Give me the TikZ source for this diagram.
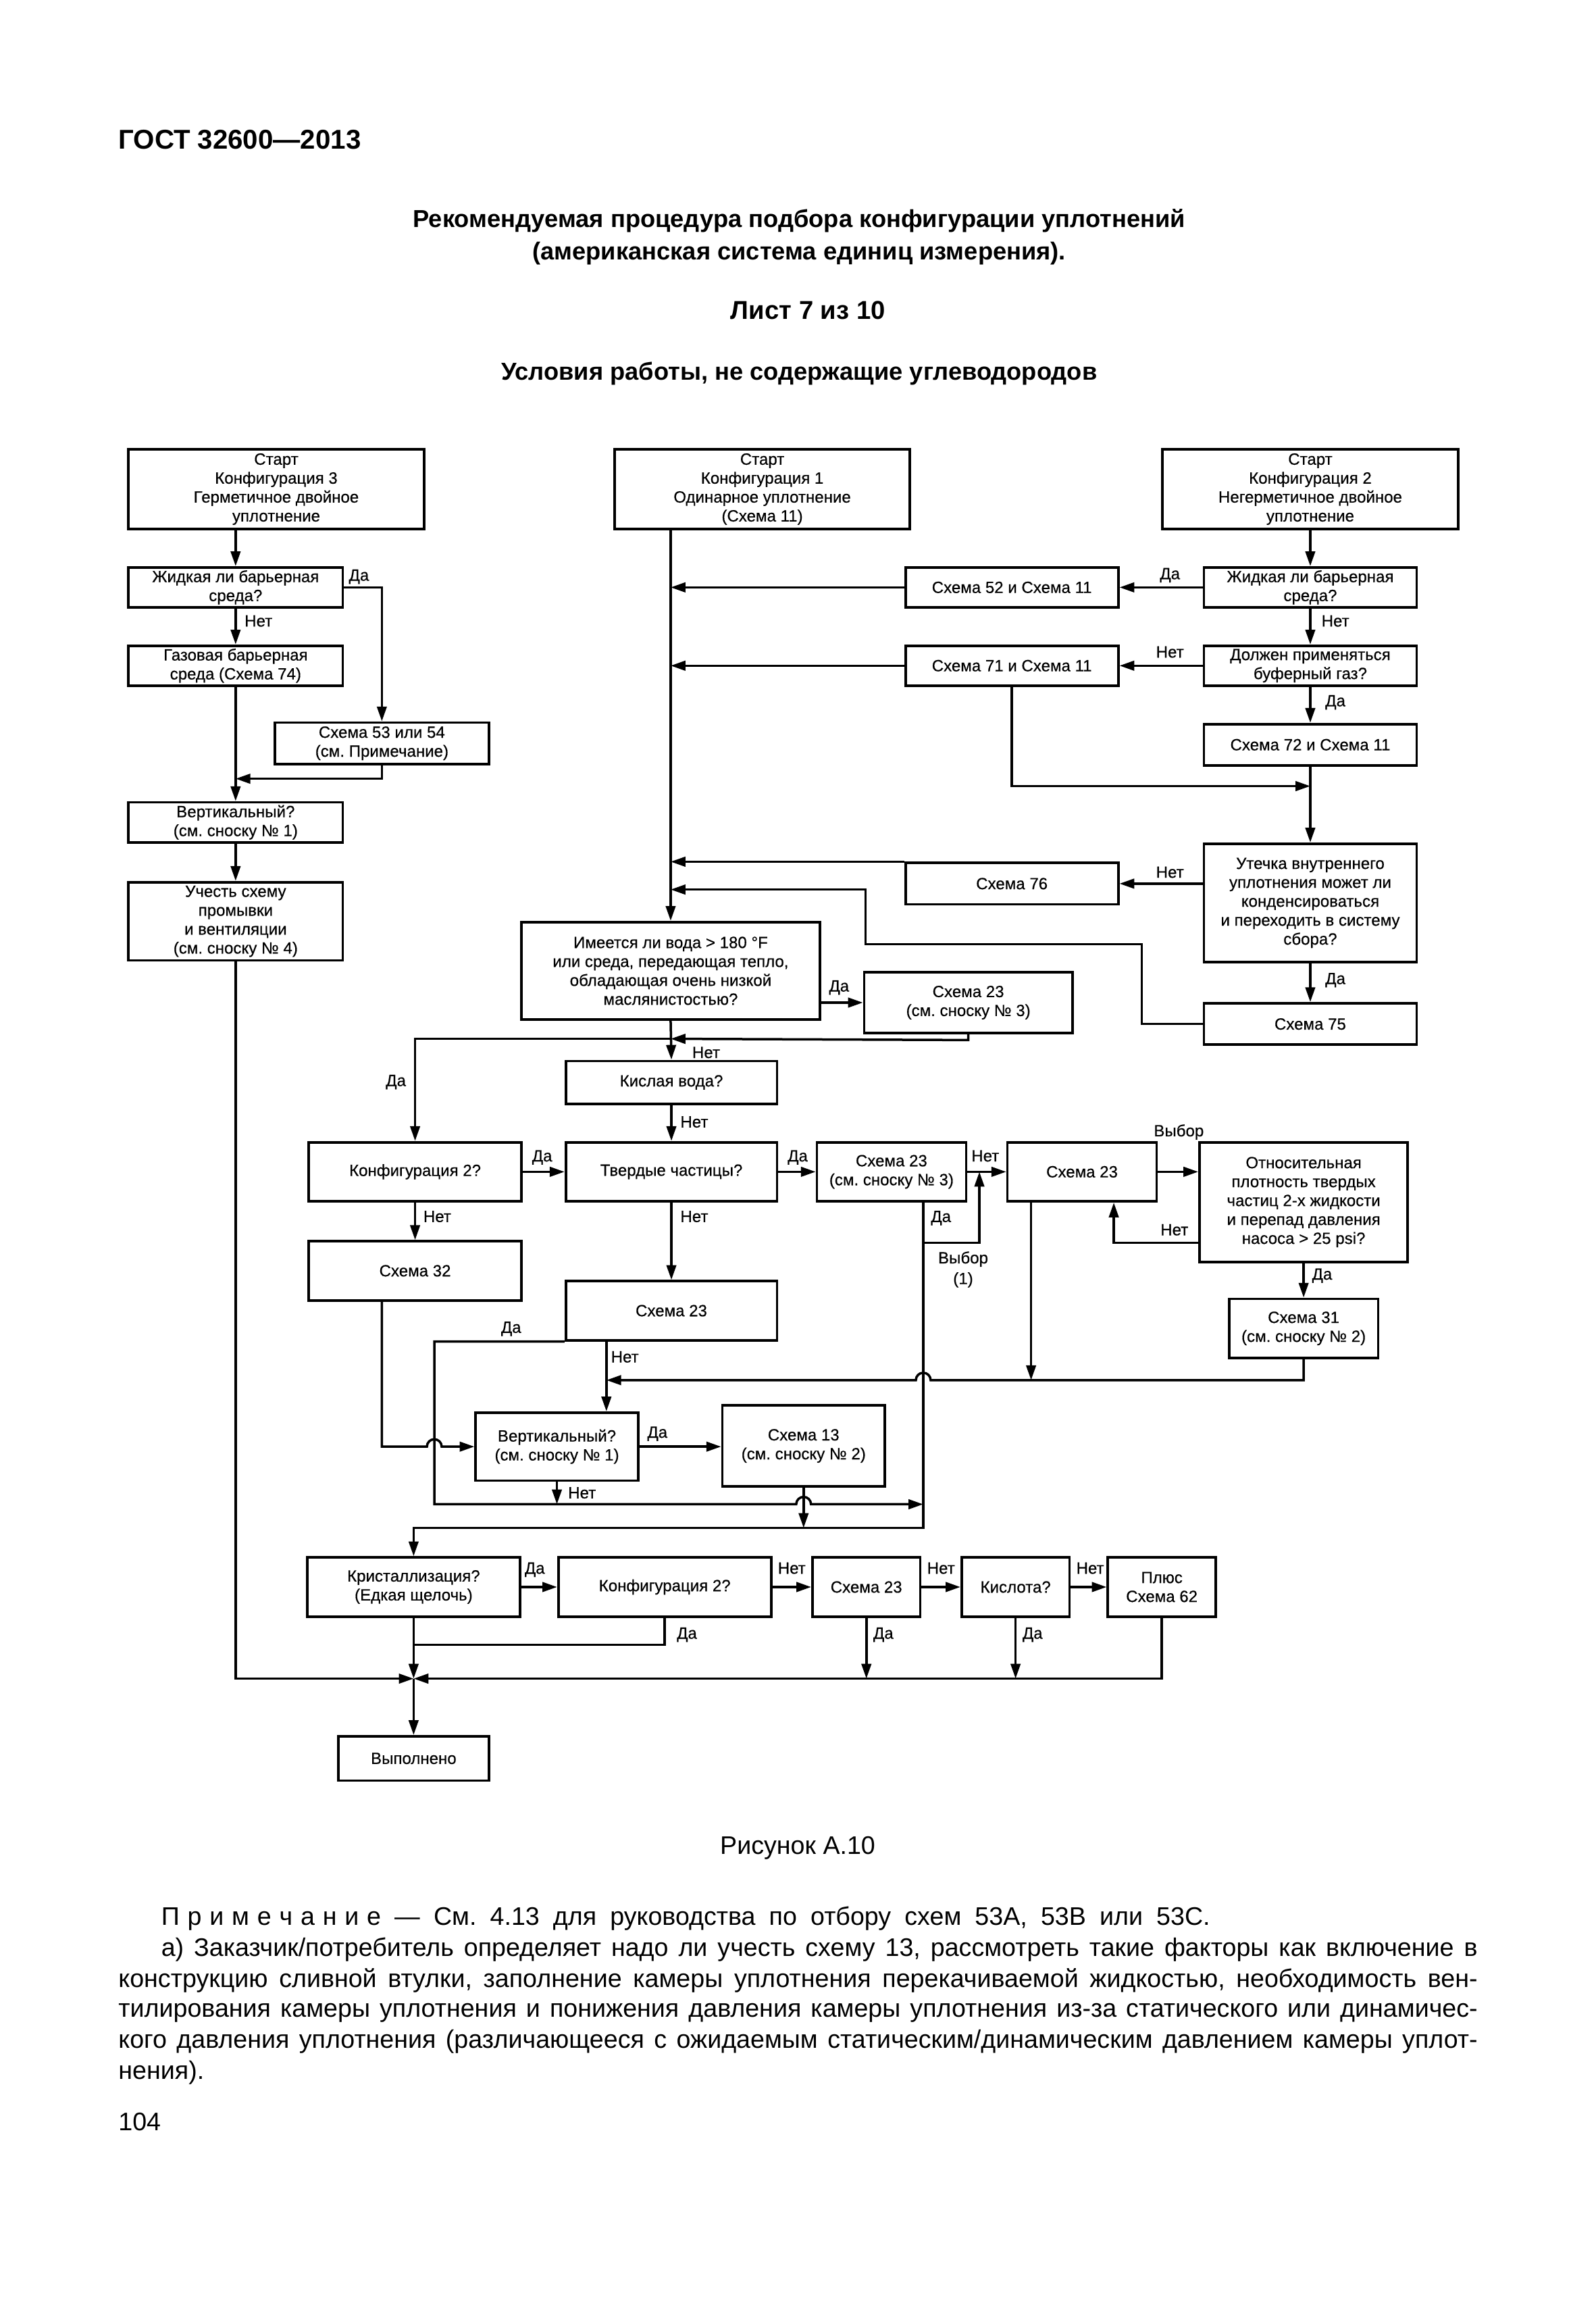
\documentclass[tikz,border=0pt]{standalone}
\usepackage{fontspec}
\setmainfont{Liberation Sans}
\newfontfamily\dgfont{Liberation Sans}[FakeBold=0.5]
\usetikzlibrary{arrows.meta,calc}
\frenchspacing
\tikzset{
  box/.style={draw, line width=1.7pt, inner sep=0pt, align=center, font=\dgfont\fontsize{11}{12.8}\selectfont},
  lbl/.style={inner sep=0pt, font=\dgfont\fontsize{11}{12.8}\selectfont, anchor=base},
  arr/.style={line width=1.6pt, -{Triangle[length=10pt,width=6.5pt]}},
  ln/.style={line width=1.6pt},
  hdr/.style={inner sep=0pt, anchor=base, font=\bfseries\fontsize{16.6}{19}\selectfont},
  note/.style={inner sep=0pt, anchor=base west, font=\frenchspacing\fontsize{17.2}{20.8}\selectfont}
}
\newcommand\bx[6]{\node[box, minimum width={(#4-#2)*1pt}, minimum height={(#5-#3)*1pt}] (#1) at ({(#2+#4)/2},{(#3+#5)/2}) {#6};}
\newcommand\lb[4]{\node[lbl] (#1) at (#2,{#3+4}) {#4};}
\newcommand\ls{\kern5.4pt}
\begin{document}
\begin{tikzpicture}[x=1pt,y=-1pt]
\fill[white] (0,0) rectangle (1080,1566);
\useasboundingbox (0,0) rectangle (1080,1566);

% header
\node[inner sep=0pt, anchor=base west, font=\bfseries\fontsize{18.4}{20}\selectfont] (gost) at (80,101) {ГОСТ 32600—2013};
\node[hdr] (t1) at (541,154) {Рекомендуемая процедура подбора конфигурации уплотнений};
\node[hdr] (t2) at (541,176) {(американская система единиц измерения).};
\node[hdr, font=\bfseries\fontsize{17.5}{19}\selectfont] (t3) at (547,216) {Лист 7 из 10};
\node[hdr] (t4) at (541,257) {Условия работы, не содержащие углеводородов};

% boxes - left
\bx{S3}{87}{304}{287}{358}{Старт\\Конфигурация 3\\Герметичное двойное\\уплотнение}
\bx{LQL}{87}{384}{232}{411}{Жидкая ли барьерная\\среда?}
\bx{GAS}{87}{437}{232}{464}{Газовая барьерная\\среда (Схема 74)}
\bx{S53}{186}{489}{331}{517}{Схема 53 или 54\\(см. Примечание)}
\bx{VERT1}{87}{543}{232}{570}{Вертикальный?\\(см. сноску № 1)}
\bx{FLUSH}{87}{597}{232}{650}{Учесть схему\\промывки\\и вентиляции\\(см. сноску № 4)}

% boxes - middle/right top
\bx{S1}{416}{304}{616}{358}{Старт\\Конфигурация 1\\Одинарное уплотнение\\(Схема 11)}
\bx{S2}{787}{304}{987}{358}{Старт\\Конфигурация 2\\Негерметичное двойное\\уплотнение}
\bx{LQR}{815}{384}{959}{411}{Жидкая ли барьерная\\среда?}
\bx{S52}{613}{384}{757}{411}{Схема 52 и Схема 11}
\bx{DOLZH}{815}{437}{959}{464}{Должен применяться\\буферный газ?}
\bx{S71}{613}{437}{757}{464}{Схема 71 и Схема 11}
\bx{S72}{815}{490}{959}{518}{Схема 72 и Схема 11}
\bx{UTECH}{815}{571}{959}{651}{Утечка внутреннего\\уплотнения может ли\\конденсироваться\\и переходить в систему\\сбора?}
\bx{S76}{613}{584}{757}{612}{Схема 76}
\bx{S75}{815}{679}{959}{707}{Схема 75}

% boxes - middle
\bx{IMEET}{353}{624}{555}{690}{Имеется ли вода > 180 °F\\или среда, передающая тепло,\\обладающая очень низкой\\маслянистостью?}
\bx{S23a}{585}{658}{726}{699}{Схема 23\\(см. сноску № 3)}
\bx{KISL}{383}{718}{526}{747}{Кислая вода?}
\bx{TVERD}{383}{773}{526}{813}{Твердые частицы?}
\bx{KONF2}{209}{773}{353}{813}{Конфигурация 2?}
\bx{S32}{209}{840}{353}{880}{Схема 32}
\bx{S23mid}{383}{867}{526}{907}{Схема 23}
\bx{S23b}{553}{773}{654}{813}{Схема 23\\(см. сноску № 3)}
\bx{S23r}{682}{773}{783}{813}{Схема 23}
\bx{OTN}{812}{773}{953}{854}{Относительная\\плотность твердых\\частиц 2-х жидкости\\и перепад давления\\насоса > 25 psi?}
\bx{S31}{832}{879}{933}{919}{Схема 31\\(см. сноску № 2)}
\bx{VERT2}{322}{956}{432}{1002}{Вертикальный?\\(см. сноску № 1)}
\bx{S13}{489}{951}{599}{1006}{Схема 13\\(см. сноску № 2)}

% boxes - bottom
\bx{KRIST}{208}{1054}{352}{1094}{Кристаллизация?\\(Едкая щелочь)}
\bx{KONF2b}{378}{1054}{522}{1094}{Конфигурация 2?}
\bx{S23c}{550}{1054}{623}{1094}{Схема 23}
\bx{KISLOTA}{651}{1054}{724}{1094}{Кислота?}
\bx{PLUS}{750}{1054}{823}{1094}{Плюс\\Схема 62}
\bx{DONE}{229}{1175}{331}{1205}{Выполнено}

% junction coordinates
\coordinate (j527) at (159.5,527);
\coordinate (jE) at (280,1136);
\coordinate (j602) at (454,602);
\coordinate (j532) at (887,532);
\coordinate (j703) at (454,703);
\coordinate (j934) at (410.5,934);
\coordinate (j698) at (698,934);
\coordinate (b841) at (625,841);
\coordinate (b793) at (663,793);
\coordinate (j1018) at (625,1018);
\coordinate (j1034) at (544,1034);
\coordinate (j1113) at (280,1113);

% left connectors
\draw[arr] (S3.south -| LQL.north) -- (LQL.north);
\draw[arr] (LQL.south) -- (GAS.north);
\draw[arr] (LQL.east) -| (S53.north);
\draw[arr] (S53.south) |- (j527);
\draw[arr] (GAS.south) -- (VERT1.north);
\draw[arr] (VERT1.south) -- (FLUSH.north);
\draw[arr] (FLUSH.south) |- (jE);

% trunk
\draw[arr] (S1.south -| IMEET.north) -- (IMEET.north);
\draw[arr] (S52.west) -- (S52.west -| IMEET.north);
\draw[arr] (S71.west) -- (S71.west -| IMEET.north);
\draw[arr] (S76.north west) -- (S76.north west -| IMEET.north);
\draw[arr] (S75.west) -| (773,639) -| (586,602) -- (j602);

% right
\draw[arr] (S2.south) -- (LQR.north);
\draw[arr] (LQR.west) -- (S52.east);
\draw[arr] (LQR.south) -- (DOLZH.north);
\draw[arr] (DOLZH.west) -- (S71.east);
\draw[arr] (DOLZH.south) -- (S72.north);
\draw[arr] (S72.south) -- (UTECH.north);
\draw[arr] (S71.south) |- (j532);
\draw[arr] (UTECH.west |- S76.east) -- (S76.east);
\draw[arr] (UTECH.south) -- (S75.north);

% middle
\draw[arr] (IMEET.east |- S23a.west) -- (S23a.west);
\draw[arr] (S23a.south) -- ++(0,4) -- (j703);
\draw[arr] (j703) -| (KONF2.north);
\draw[arr] (IMEET.south) -- (KISL.north);
\draw[arr] (KISL.south) -- (TVERD.north);
\draw[arr] (KONF2.east) -- (TVERD.west);
\draw[arr] (KONF2.south) -- (S32.north);
\draw[arr] (TVERD.east) -- (S23b.west);
\draw[arr] (TVERD.south) -- (S23mid.north);
\draw[arr] (S23b.east) -- (S23r.west);
\draw[arr] (S23r.east) -- (S23r.east -| OTN.west);
\draw[arr] ([yshift=-27.5pt]OTN.west) -| ([xshift=21.5pt]S23r.south);
\draw[arr] (OTN.south) -- (S31.north);
\draw[arr] (S31.south) |- (630,934) arc[start angle=0,end angle=180,radius=5pt] -- (j934);
\draw[arr] ([xshift=-34.5pt]S23r.south) -- (j698);
\draw[arr] ([xshift=21.5pt]S23b.south) |- (280,1034) -- (KRIST.north);
\draw[arr] (b841) -| (b793);
\draw[arr] ([xshift=-44pt]S23mid.south) -- ([xshift=-44pt]S23mid.south |- VERT2.north);
\draw[arr] (S23mid.south west) -| (294,1018) -- (539,1018) arc[start angle=180,end angle=0,radius=5pt] -- (j1018);
\draw[arr] ([xshift=-22.5pt]S32.south) |- (289,979) arc[start angle=180,end angle=0,radius=5pt] -- (VERT2.west);
\draw[arr] (VERT2.east) -- (VERT2.east -| S13.west);
\draw[arr] (VERT2.south) -- (VERT2.south |- j1018);
\draw[arr] (S13.south) -- (j1034);

% bottom
\draw[arr] (KRIST.east) -- (KONF2b.west);
\draw[arr] (KONF2b.east) -- (S23c.west);
\draw[arr] (S23c.east) -- (KISLOTA.west);
\draw[arr] (KISLOTA.east) -- (PLUS.west);
\draw[ln] (KONF2b.south) |- (j1113);
\draw[arr] (KRIST.south) -- (jE);
\draw[arr] (PLUS.south) |- (jE);
\draw[arr] (S23c.south) -- (S23c.south |- jE);
\draw[arr] (KISLOTA.south) -- (KISLOTA.south |- jE);
\draw[arr] (jE) -- (DONE.north);

% labels
\lb{l1}{243}{389}{Да}
\lb{l2}{175}{420}{Нет}
\lb{l3}{792}{388}{Да}
\lb{l4}{904}{420}{Нет}
\lb{l5}{792}{441}{Нет}
\lb{l6}{904}{474}{Да}
\lb{l7}{792}{590}{Нет}
\lb{l8}{904}{662}{Да}
\lb{l9}{568}{667}{Да}
\lb{l10}{478}{712}{Нет}
\lb{l11}{470}{759}{Нет}
\lb{l12}{268}{731}{Да}
\lb{l13}{367}{782}{Да}
\lb{l14}{296}{823}{Нет}
\lb{l15}{540}{782}{Да}
\lb{l16}{470}{823}{Нет}
\lb{l17}{667}{782}{Нет}
\lb{l18}{637}{823}{Да}
\lb{l19}{652}{851}{Выбор}
\lb{l20}{652}{865}{(1)}
\lb{l21}{798}{765}{Выбор}
\lb{l22}{795}{832}{Нет}
\lb{l23}{895}{862}{Да}
\lb{l24}{346}{898}{Да}
\lb{l25}{423}{918}{Нет}
\lb{l26}{445}{969}{Да}
\lb{l27}{394}{1010}{Нет}
\lb{l28}{362}{1061}{Да}
\lb{l29}{536}{1061}{Нет}
\lb{l30}{637}{1061}{Нет}
\lb{l31}{738}{1061}{Нет}
\lb{l32}{465}{1105}{Да}
\lb{l33}{598}{1105}{Да}
\lb{l34}{699}{1105}{Да}

% caption and notes
\node[inner sep=0pt, anchor=base, font=\fontsize{17.2}{19}\selectfont] (cap) at (540,1255) {Рисунок А.10};
\node[note] (n1) at (109,1303) {\makebox[710pt][s]{П\ls р\ls и\ls м\ls е\ls ч\ls а\ls н\ls и\ls е — См. 4.13 для руководства по отбору схем 53A, 53B или 53C.}};
\node[note] (n2) at (109,1324) {\makebox[891pt][s]{а) Заказчик/потребитель определяет надо ли учесть схему 13, рассмотреть такие факторы как включение в}};
\node[note] (n3) at (80,1345) {\makebox[920pt][s]{конструкцию сливной втулки, заполнение камеры уплотнения перекачиваемой жидкостью, необходимость вен-}};
\node[note] (n4) at (80,1365) {\makebox[920pt][s]{тилирования камеры уплотнения и понижения давления камеры уплотнения из-за статического или динамичес-}};
\node[note] (n5) at (80,1386) {\makebox[920pt][s]{кого давления уплотнения (различающееся с ожидаемым статическим/динамическим давлением камеры уплот-}};
\node[note] (n6) at (80,1407) {нения).};
\node[note] (pg) at (80,1442) {104};
\end{tikzpicture}
\end{document}
